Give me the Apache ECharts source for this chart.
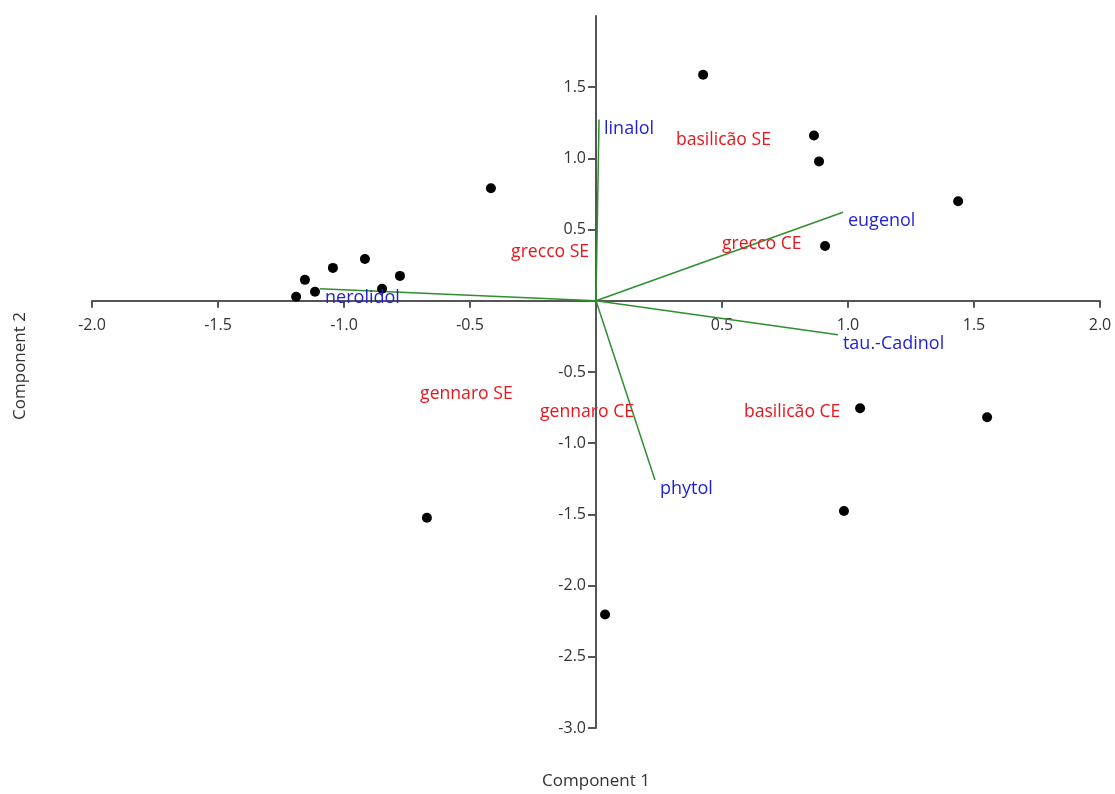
<!DOCTYPE html>
<html>
<head>
<meta charset="utf-8">
<script src="https://cdn.jsdelivr.net/npm/echarts@6/dist/echarts.min.js"></script>
<style>
  html, body { margin: 0; padding: 0; background: #fff; }
  #chart { width: 1115px; height: 794px; }
</style>
</head>
<body>
<div id="chart"></div>
<script>
// PCA scores (Component 1, Component 2)
const scoreX = [0.425, 0.865, 0.885, 1.437, -0.417, 0.909, -0.917, -1.044, -0.778, -1.155, -0.849, -1.115, -1.190, 1.048, 1.552, 0.984, -0.671, 0.036];
const scoreY = [1.587, 1.161, 0.979, 0.699, 0.790, 0.385, 0.294, 0.231, 0.175, 0.147, 0.084, 0.063, 0.028, -0.755, -0.818, -1.476, -1.524, -2.203];

// Variable loadings (biplot vectors)
const loadingNames = ['linalol', 'eugenol', 'tau.-Cadinol', 'phytol', 'nerolidol'];
const loadingX = [0.012, 0.980, 0.960, 0.234, -1.095];
const loadingY = [1.273, 0.622, -0.238, -1.259, 0.084];

// Sample group labels
const groupNames = ['basilicão SE', 'grecco CE', 'grecco SE', 'gennaro SE', 'gennaro CE', 'basilicão CE'];
const groupX = [0.317, 0.500, -0.337, -0.698, -0.222, 0.587];
const groupY = [1.126, 0.399, 0.343, -0.657, -0.783, -0.783];

// Axis tick values
const xTicks = [-2.0, -1.5, -1.0, -0.5, 0, 0.5, 1.0, 1.5, 2.0];
const yTicks = [-3.0, -2.5, -2.0, -1.5, -1.0, -0.5, 0, 0.5, 1.0, 1.5];

const X_MIN = -2, X_MAX = 2, Y_MIN = -3, Y_MAX = 2;
const GRID = { left: 92, right: 15, top: 16, bottom: 66 };
const W = 1115, H = 794;

const FONT = '"Open Sans", "Noto Sans", sans-serif';
const RED = '#e8161c';
const BLUE = '#1f1fd8';
const GREEN = '#2f8f2f';
const AXIS = '#555';

const chart = echarts.init(document.getElementById('chart'), null, { renderer: 'canvas' });

// place the axes through the origin by offsetting them into the plot area
const plotW = W - GRID.left - GRID.right;
const plotH = H - GRID.top - GRID.bottom;
const xAxisOffset = -plotH * (0 - Y_MIN) / (Y_MAX - Y_MIN);
const yAxisOffset = -plotW * (0 - X_MIN) / (X_MAX - X_MIN);

const series = [];

// loading vectors from origin
loadingNames.forEach((name, i) => {
  series.push({
    type: 'line',
    name: name,
    data: [[0, 0], [loadingX[i], loadingY[i]]],
    showSymbol: false,
    symbol: 'none',
    lineStyle: { color: GREEN, width: 1.5 },
    silent: true,
    z: 3
  });
});

// loading names at the vector tips
series.push({
  type: 'scatter',
  data: loadingNames.map((n, i) => ({ value: [loadingX[i], loadingY[i]], name: n })),
  symbolSize: 0,
  silent: true,
  itemStyle: { opacity: 1 },
  label: {
    show: true,
    formatter: p => p.name,
    position: [5, 0],
    align: 'left',
    verticalAlign: 'top',
    color: BLUE,
    fontSize: 18,
    fontFamily: FONT
  },
  z: 5
});

// score points
series.push({
  type: 'scatter',
  data: scoreX.map((x, i) => [x, scoreY[i]]),
  symbol: 'circle',
  symbolSize: 10,
  itemStyle: { color: '#000', opacity: 1 },
  z: 4
});

// group labels
series.push({
  type: 'scatter',
  data: groupNames.map((n, i) => ({ value: [groupX[i], groupY[i]], name: n })),
  symbolSize: 0,
  silent: true,
  itemStyle: { opacity: 1 },
  label: {
    show: true,
    formatter: p => p.name,
    position: [0, 0],
    align: 'left',
    verticalAlign: 'middle',
    color: RED,
    fontSize: 17.6,
    fontFamily: FONT
  },
  z: 5
});

const fmt = v => (Math.abs(v) < 1e-9 ? '' : v.toFixed(1));

chart.setOption({
  backgroundColor: '#fff',
  animation: false,
  grid: GRID,
  xAxis: {
    type: 'value',
    min: X_MIN,
    max: X_MAX,
    interval: 0.5,
    offset: xAxisOffset,
    axisLine: { onZero: false, lineStyle: { color: AXIS, width: 2 } },
    axisTick: { show: true, length: 7, lineStyle: { color: AXIS, width: 2 } },
    axisLabel: {
      customValues: xTicks.filter(v => v !== 0),
      formatter: fmt,
      color: '#333',
      fontSize: 16,
      fontFamily: FONT,
      margin: 17
    },
    splitLine: { show: false }
  },
  yAxis: {
    type: 'value',
    min: Y_MIN,
    max: Y_MAX,
    interval: 0.5,
    offset: yAxisOffset,
    axisLine: { onZero: false, lineStyle: { color: AXIS, width: 2 } },
    axisTick: { show: true, length: 8, customValues: yTicks, lineStyle: { color: AXIS, width: 2 } },
    axisLabel: {
      customValues: yTicks.filter(v => v !== 0),
      formatter: fmt,
      color: '#333',
      fontSize: 16,
      fontFamily: FONT,
      margin: 10
    },
    splitLine: { show: false }
  },
  graphic: [
    {
      type: 'text',
      x: 596,
      y: 781,
      style: { text: 'Component 1', fill: '#333', font: '17px ' + FONT, align: 'center', verticalAlign: 'middle' }
    },
    {
      type: 'text',
      x: 20,
      y: 366,
      rotation: Math.PI / 2,
      style: { text: 'Component 2', fill: '#333', font: '17px ' + FONT, align: 'center', verticalAlign: 'middle' }
    }
  ],
  series: series
});
</script>
</body>
</html>
